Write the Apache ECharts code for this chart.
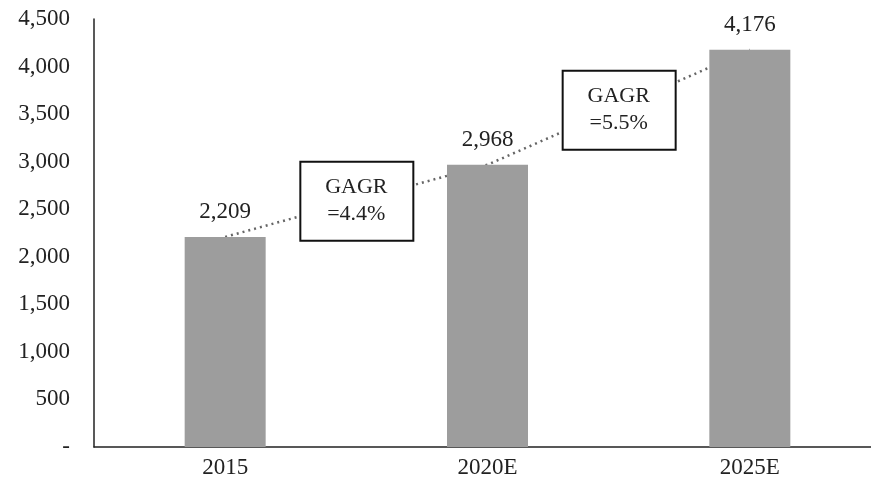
<!DOCTYPE html>
<html>
<head>
<meta charset="utf-8">
<script src="https://cdn.jsdelivr.net/npm/echarts@6/dist/echarts.min.js"></script>
<style>
  html, body { margin: 0; padding: 0; background: #fff; }
  #main { width: 871px; height: 493px; }
</style>
</head>
<body>
<div id="main"></div>
<script>
// data
var years = ['2015', '2020E', '2025E'];
var values = [2209, 2968, 4176];
var yTicks = [0, 500, 1000, 1500, 2000, 2500, 3000, 3500, 4000, 4500];
// growth boxes: sit between two categories, at a value height
var cagrText = ['GAGR\n=4.4%', 'GAGR\n=5.5%'];
var cagrLevel = [2590, 3545];

var FONT = '"Liberation Serif", "Times New Roman", serif';
var TXT = '#222';

var chart = echarts.init(document.getElementById('main'));

function fmt(v) {
    return v === 0 ? '-' : v.toLocaleString('en-US');
}

chart.setOption({
    animation: false,
    grid: {
        left: 94,
        right: -10,
        top: 19,
        bottom: 46,
        outerBoundsMode: 'none'
    },
    xAxis: {
        type: 'category',
        data: years,
        axisLine: { show: true, lineStyle: { color: '#222', width: 1.5 } },
        axisTick: { show: false },
        axisLabel: {
            color: TXT,
            fontFamily: FONT,
            fontSize: 23,
            margin: 9
        }
    },
    yAxis: {
        type: 'value',
        min: yTicks[0],
        max: yTicks[yTicks.length - 1],
        interval: 500,
        splitLine: { show: false },
        axisTick: { show: false },
        axisLine: { show: true, lineStyle: { color: '#222', width: 1.5 } },
        axisLabel: {
            color: TXT,
            fontFamily: FONT,
            fontSize: 23,
            margin: 24,
            formatter: fmt
        }
    },
    series: [
        {
            type: 'line',
            data: values,
            z: 1,
            symbol: 'none',
            lineStyle: { color: '#666', width: 2.5, type: [2, 4] }
        },
        {
            type: 'bar',
            data: values,
            z: 2,
            barWidth: 81,
            itemStyle: { color: '#9d9d9d' },
            label: {
                show: true,
                position: 'top',
                distance: 13,
                color: TXT,
                fontFamily: FONT,
                fontSize: 23,
                formatter: function (p) { return fmt(p.value); }
            }
        }
    ]
});

// place the growth boxes through the chart's own scales
var boxes = cagrText.map(function (t, i) {
    var a = chart.convertToPixel({ xAxisIndex: 0 }, years[i]);
    var b = chart.convertToPixel({ xAxisIndex: 0 }, years[i + 1]);
    var y = chart.convertToPixel({ yAxisIndex: 0 }, cagrLevel[i]);
    return {
        type: 'group',
        x: (a + b) / 2,
        y: y,
        children: [
            {
                type: 'rect',
                z: 100,
                shape: { x: -56, y: -39, width: 113, height: 79 },
                style: { fill: '#fff', stroke: '#111', lineWidth: 2 }
            },
            {
                type: 'text',
                z: 101,
                style: {
                    text: t,
                    x: 0,
                    y: 0,
                    align: 'center',
                    verticalAlign: 'middle',
                    font: '22px ' + FONT,
                    lineHeight: 27,
                    fill: TXT
                }
            }
        ]
    };
});
chart.setOption({ graphic: boxes });
</script>
</body>
</html>
